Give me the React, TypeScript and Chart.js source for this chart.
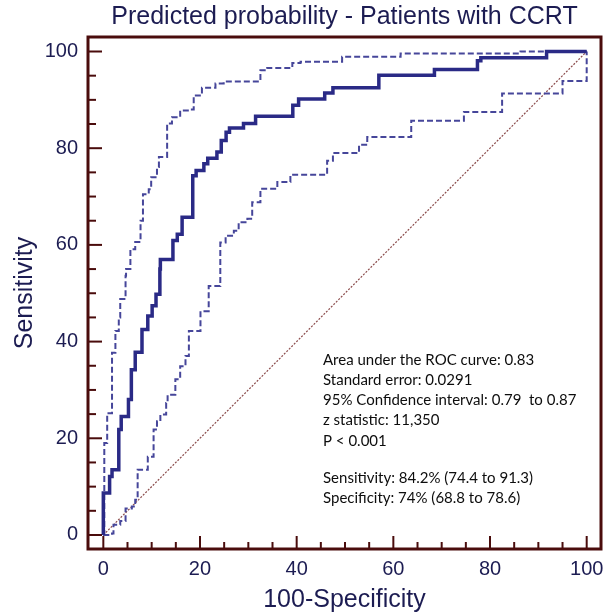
import React, { useEffect, useRef } from "react";
import { Chart, registerables } from "chart.js";

Chart.register(...registerables);

const chartTitle = "Predicted probability - Patients with CCRT";
const xAxisTitle = "100-Specificity";
const yAxisTitle = "Sensitivity";
const majorTicks = [0, 20, 40, 60, 80, 100];
const minorTicks = [0, 5, 10, 15, 20, 25, 30, 35, 40, 45, 50, 55, 60, 65, 70, 75, 80, 85, 90, 95, 100];

// ROC curve (100-Specificity, Sensitivity)
const rocX = [0, 0, 1.3, 1.8, 3.2, 3.7, 5.2, 5.8, 6.6, 8.0, 9.2, 10.1, 10.9, 11.7, 11.8, 14.4, 15.3, 16.3, 18.5, 19.2, 20.8, 21.6, 23.5, 24.4, 25.4, 26.1, 29.0, 31.5, 39.2, 40.4, 45.8, 47.5, 57.0, 68.5, 77.4, 78.1, 91.7, 100];
const rocY = [0, 8.7, 12.1, 13.5, 21.8, 24.5, 28.0, 34.2, 37.8, 42.5, 45.3, 47.4, 49.8, 55.0, 57.0, 60.9, 62.2, 65.7, 74.3, 75.4, 76.8, 77.9, 79.2, 81.6, 83.3, 84.2, 85.1, 86.6, 88.9, 90.2, 91.4, 92.5, 95.1, 96.3, 98.1, 98.7, 100, 100];

// Upper 95% confidence bound
const upperX = [0, 0.2, 0.8, 1.8, 2.5, 3.2, 3.5, 4.6, 4.7, 5.6, 6.6, 7.7, 8.2, 9.4, 9.9, 11.1, 11.5, 13.2, 14.2, 15.9, 17.7, 18.7, 20.4, 23.2, 24.9, 32.5, 33.9, 39.1, 40.8, 49.4, 61.5, 86.3, 100];
const upperY = [0, 19.0, 25.2, 37.7, 42.2, 45.0, 48.8, 53.6, 55.0, 59.1, 60.6, 65.0, 70.5, 71.5, 74.0, 76.1, 78.2, 85.1, 86.4, 87.8, 88.0, 90.9, 92.5, 93.4, 93.8, 96.1, 96.6, 97.6, 97.9, 98.9, 99.6, 100, 100];

// Lower 95% confidence bound
const lowerX = [0, 1.8, 2.1, 3.5, 4.6, 5.9, 6.6, 7.1, 9.2, 10.4, 11.1, 11.8, 13.0, 13.3, 14.9, 15.9, 17.0, 17.7, 20.1, 21.8, 24.2, 25.3, 27.0, 28.0, 29.8, 30.8, 32.5, 36.0, 38.7, 46.3, 47.5, 52.9, 54.6, 63.7, 74.6, 82.5, 95.0, 100];
const lowerY = [0, 0.3, 2.1, 2.9, 5.5, 5.9, 7.3, 13.5, 16.2, 21.8, 23.5, 24.9, 27.3, 29.0, 32.2, 34.9, 37.0, 42.2, 46.3, 51.5, 60.5, 61.9, 62.9, 64.7, 65.4, 68.8, 71.6, 73.0, 74.5, 77.4, 79.0, 80.7, 82.3, 85.7, 87.5, 91.3, 93.9, 100];

// Reference diagonal
const diagX = [0, 100];
const diagY = [0, 100];

const statsBlock1 = [
  "Area under the ROC curve: 0.83",
  "Standard error: 0.0291",
  "95% Confidence interval: 0.79  to 0.87",
  "z statistic: 11,350",
  "P < 0.001",
];
const statsBlock2 = [
  "Sensitivity: 84.2% (74.4 to 91.3)",
  "Specificity: 74% (68.8 to 78.6)",
];

const FRAME = "#4a0c0c";
const TEXT = "#1c1c52";
const SANS = "'Liberation Sans', Arial, sans-serif";

const toPts = (xs: number[], ys: number[]) => xs.map((x, i) => ({ x, y: ys[i] }));

const framePlugin = {
  id: "frameTicks",
  afterDatasetsDraw(chart: any) {
    const { ctx, chartArea: a, scales } = chart;
    const xs = scales.x;
    const ys = scales.y;
    ctx.save();
    ctx.strokeStyle = FRAME;
    ctx.lineWidth = 2;
    minorTicks.forEach((v) => {
      const major = majorTicks.includes(v);
      const px = xs.getPixelForValue(v);
      ctx.beginPath();
      ctx.moveTo(px, a.bottom);
      ctx.lineTo(px, a.bottom - (major ? 13 : 7));
      ctx.stroke();
      const py = ys.getPixelForValue(v);
      ctx.beginPath();
      ctx.moveTo(a.left, py);
      ctx.lineTo(a.left + (major ? 14 : 8), py);
      ctx.stroke();
    });
    ctx.lineWidth = 3;
    ctx.strokeRect(a.left, a.top, a.right - a.left, a.bottom - a.top);

    ctx.fillStyle = "#0d0d0d";
    ctx.font = "15px Lato, 'Open Sans', sans-serif";
    ctx.textBaseline = "middle";
    ctx.textAlign = "left";
    statsBlock1.forEach((t, i) => ctx.fillText(t, 323, 360 + i * 20.2));
    statsBlock2.forEach((t, i) => ctx.fillText(t, 323, 478 + i * 19.7));
    ctx.restore();
  },
};

export default function App() {
  const ref = useRef<HTMLCanvasElement | null>(null);
  useEffect(() => {
    if (!ref.current) return;
    const chart = new Chart(ref.current, {
      type: "line",
      data: {
        datasets: [
          {
            data: toPts(rocX, rocY),
            borderColor: "#2a2a86",
            borderWidth: 3.5,
            stepped: "before",
            pointRadius: 0,
            fill: false,
          },
          {
            data: toPts(upperX, upperY),
            borderColor: "#46469a",
            borderWidth: 2,
            borderDash: [6, 3],
            stepped: "before",
            pointRadius: 0,
            fill: false,
          },
          {
            data: toPts(lowerX, lowerY),
            borderColor: "#46469a",
            borderWidth: 2,
            borderDash: [6, 3],
            stepped: "before",
            pointRadius: 0,
            fill: false,
          },
          {
            data: toPts(diagX, diagY),
            borderColor: "#8a4a4a",
            borderWidth: 1.2,
            borderDash: [2, 1.5],
            pointRadius: 0,
            fill: false,
          },
        ],
      },
      options: {
        responsive: false,
        animation: false,
        devicePixelRatio: 1,
        layout: { padding: { left: 0, right: 12, top: 0, bottom: 0 } },
        plugins: {
          legend: { display: false },
          tooltip: { enabled: false },
          title: {
            display: true,
            text: chartTitle,
            fullSize: false,
            color: TEXT,
            font: { family: SANS, size: 25, weight: "normal", lineHeight: 1.2 },
            padding: { top: 2, bottom: 5 },
          },
        },
        scales: {
          x: {
            type: "linear",
            min: -3.17,
            max: 102.96,
            afterBuildTicks: (s: any) => {
              s.ticks = majorTicks.map((v) => ({ value: v }));
            },
            afterFit: (s: any) => {
              s.height = 67;
            },
            grid: { display: false, drawTicks: false },
            border: { display: false },
            ticks: {
              color: TEXT,
              padding: 8,
              maxRotation: 0,
              font: { family: SANS, size: 20, lineHeight: 1.2 },
            },
            title: {
              display: true,
              text: xAxisTitle,
              color: TEXT,
              font: { family: SANS, size: 25, lineHeight: 1.2 },
              padding: { top: 0, bottom: 1 },
            },
          },
          y: {
            type: "linear",
            min: -2.9,
            max: 103.0,
            afterBuildTicks: (s: any) => {
              s.ticks = majorTicks.map((v) => ({ value: v }));
            },
            afterFit: (s: any) => {
              s.width = 88;
            },
            grid: { display: false, drawTicks: false },
            border: { display: false },
            ticks: {
              color: TEXT,
              padding: 10,
              font: { family: SANS, size: 20, lineHeight: 1.2 },
            },
            title: {
              display: true,
              text: yAxisTitle,
              color: TEXT,
              font: { family: SANS, size: 25, lineHeight: 1.2 },
              padding: { top: 10, bottom: 0 },
            },
          },
        },
      },
      plugins: [framePlugin],
    });
    return () => chart.destroy();
  }, []);

  return (
    <div style={{ position: "fixed", left: 0, top: 0, width: 613, height: 616, background: "#ffffff" }}>
      <canvas ref={ref} width={613} height={616} />
    </div>
  );
}
